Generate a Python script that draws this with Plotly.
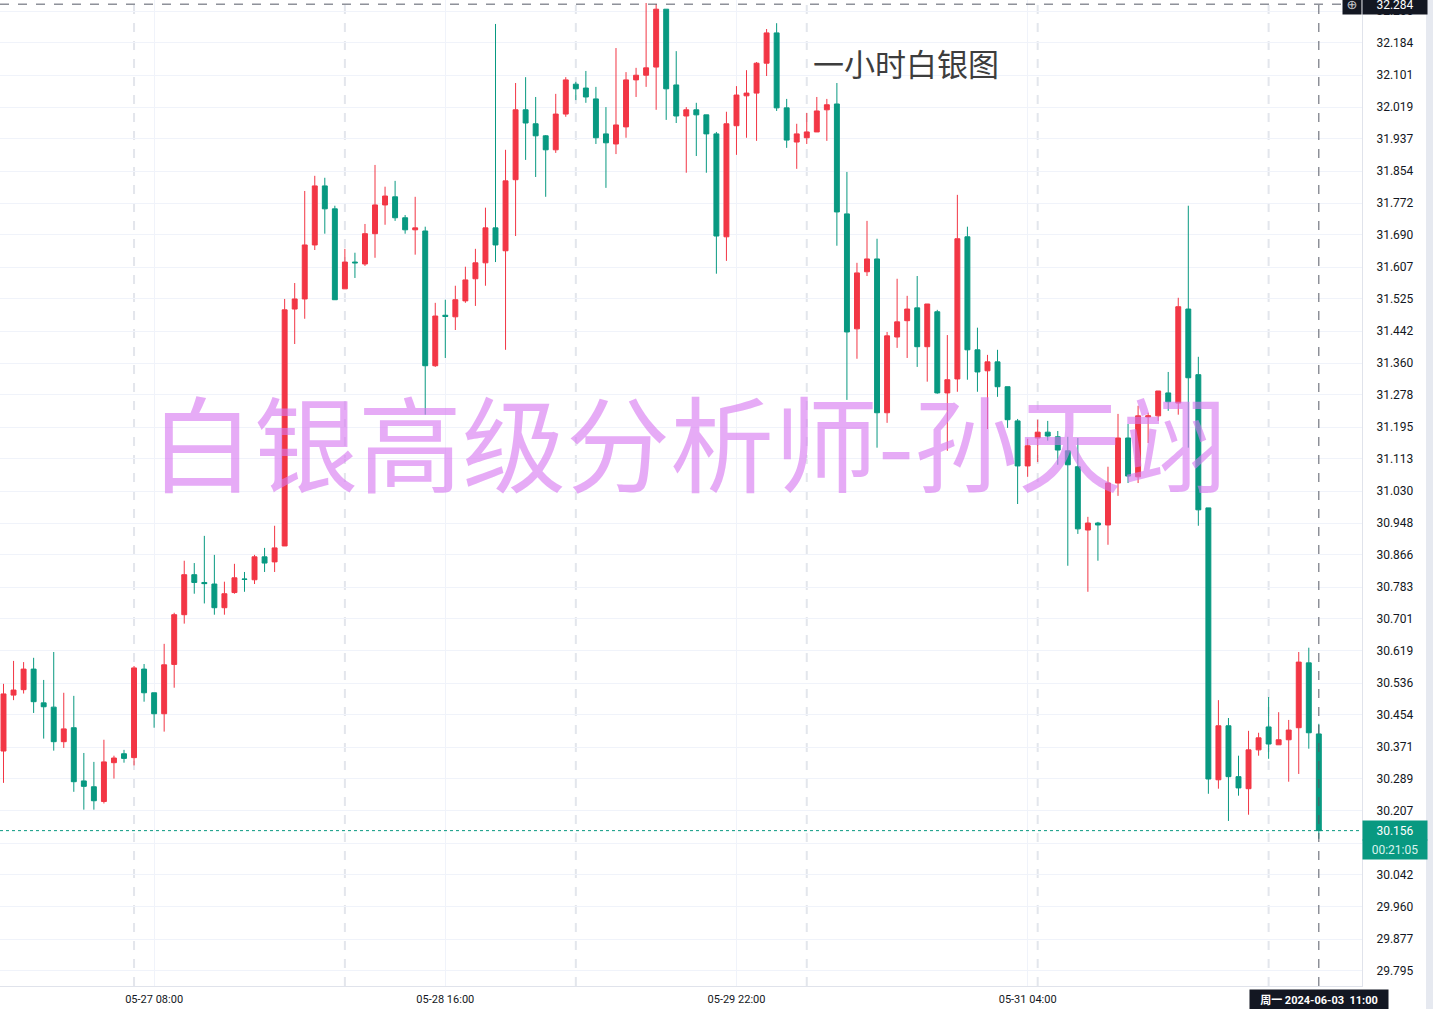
import plotly.graph_objects as go

# ---------------- data (1-hour silver candles) ----------------
opens = [30.361, 30.505, 30.519, 30.572, 30.485, 30.474, 30.385, 30.421, 30.284, 30.269,
         30.231, 30.331, 30.354, 30.344, 30.572, 30.511, 30.457, 30.584, 30.712, 30.815,
         30.795, 30.791, 30.730, 30.769, 30.804, 30.802, 30.861, 30.848, 30.889, 31.499,
         31.525, 31.664, 31.816, 31.757, 31.551, 31.620, 31.615, 31.693, 31.767, 31.788,
         31.734, 31.703, 31.700, 31.353, 31.483, 31.479, 31.520, 31.577, 31.618, 31.708,
         31.649, 31.832, 32.012, 31.976, 31.945, 31.909, 32.001, 32.078, 32.068, 32.040,
         31.950, 31.924, 31.968, 32.089, 32.101, 32.122, 32.271, 32.076, 31.996, 32.012,
         31.999, 31.950, 31.685, 31.971, 32.048, 32.055, 32.132, 32.210, 32.017, 31.929,
         31.940, 31.955, 32.012, 32.027, 31.744, 31.448, 31.595, 31.628, 31.232, 31.427,
         31.469, 31.502, 31.402, 31.492, 31.283, 31.319, 31.685, 31.394, 31.340, 31.363,
         31.299, 31.211, 31.095, 31.167, 31.182, 31.170, 31.134, 31.093, 30.930, 30.948,
         30.943, 31.051, 31.167, 31.067, 31.221, 31.224, 31.283, 31.257, 31.499, 31.330,
         30.987, 30.287, 30.426, 30.295, 30.264, 30.364, 30.423, 30.377, 30.390, 30.421,
         30.588, 30.405]
closes = [30.508, 30.518, 30.572, 30.488, 30.475, 30.385, 30.418, 30.282, 30.270, 30.233,
          30.333, 30.343, 30.342, 30.575, 30.511, 30.457, 30.583, 30.712, 30.815, 30.795,
          30.792, 30.730, 30.766, 30.807, 30.803, 30.861, 30.845, 30.884, 31.497, 31.525,
          31.664, 31.816, 31.757, 31.523, 31.620, 31.618, 31.693, 31.767, 31.790, 31.734,
          31.703, 31.708, 31.353, 31.481, 31.480, 31.523, 31.574, 31.618, 31.708, 31.664,
          31.829, 32.012, 31.978, 31.945, 31.909, 32.001, 32.089, 32.066, 32.045, 31.940,
          31.927, 31.973, 32.089, 32.101, 32.120, 32.271, 32.066, 31.996, 32.012, 31.999,
          31.950, 31.687, 31.976, 32.050, 32.055, 32.132, 32.210, 32.017, 31.934, 31.950,
          31.955, 32.009, 32.025, 31.749, 31.440, 31.592, 31.628, 31.232, 31.430, 31.466,
          31.499, 31.402, 31.512, 31.283, 31.317, 31.680, 31.394, 31.337, 31.363, 31.299,
          31.214, 31.095, 31.147, 31.182, 31.172, 31.136, 31.098, 30.933, 30.948, 30.943,
          31.051, 31.167, 31.069, 31.224, 31.224, 31.288, 31.260, 31.505, 31.322, 30.982,
          30.289, 30.426, 30.295, 30.266, 30.364, 30.395, 30.379, 30.390, 30.415, 30.590,
          30.408, 30.156]
highs = [30.534, 30.593, 30.590, 30.601, 30.544, 30.616, 30.511, 30.503, 30.356, 30.333,
         30.390, 30.349, 30.364, 30.580, 30.585, 30.511, 30.637, 30.717, 30.851, 30.845,
         30.915, 30.866, 30.797, 30.843, 30.822, 30.866, 30.884, 30.941, 31.525, 31.566,
         31.803, 31.842, 31.837, 31.765, 31.654, 31.644, 31.718, 31.870, 31.814, 31.829,
         31.741, 31.788, 31.711, 31.515, 31.523, 31.559, 31.608, 31.654, 31.760, 32.233,
         31.909, 32.081, 32.096, 32.045, 31.947, 32.053, 32.096, 32.084, 32.112, 32.071,
         32.019, 32.171, 32.109, 32.120, 32.287, 32.284, 32.271, 32.163, 32.019, 32.030,
         31.999, 31.955, 32.007, 32.073, 32.114, 32.135, 32.220, 32.235, 32.040, 31.976,
         32.004, 32.045, 32.040, 32.081, 31.852, 31.618, 31.726, 31.680, 31.440, 31.577,
         31.533, 31.584, 31.512, 31.497, 31.432, 31.793, 31.711, 31.451, 31.381, 31.394,
         31.299, 31.216, 31.165, 31.214, 31.211, 31.185, 31.170, 31.167, 30.964, 30.951,
         31.093, 31.229, 31.203, 31.250, 31.232, 31.288, 31.337, 31.528, 31.765, 31.376,
         30.987, 30.492, 30.446, 30.349, 30.413, 30.408, 30.500, 30.461, 30.441, 30.616,
         30.627, 30.431]
lows = [30.279, 30.492, 30.509, 30.459, 30.393, 30.362, 30.369, 30.256, 30.210, 30.210,
        30.226, 30.290, 30.331, 30.324, 30.488, 30.421, 30.411, 30.524, 30.689, 30.766,
        30.741, 30.712, 30.712, 30.766, 30.771, 30.791, 30.822, 30.822, 30.889, 31.409,
        31.474, 31.651, 31.693, 31.523, 31.551, 31.579, 31.610, 31.631, 31.716, 31.726,
        31.693, 31.639, 31.227, 31.350, 31.373, 31.445, 31.515, 31.507, 31.559, 31.620,
        31.394, 31.687, 31.883, 31.839, 31.788, 31.901, 31.994, 32.037, 32.030, 31.924,
        31.811, 31.898, 31.940, 32.045, 32.071, 32.012, 31.986, 31.978, 31.850, 31.893,
        31.850, 31.590, 31.623, 31.896, 31.940, 31.932, 32.099, 32.009, 31.914, 31.860,
        31.924, 31.955, 31.932, 31.662, 31.265, 31.371, 31.584, 31.142, 31.206, 31.399,
        31.373, 31.350, 31.312, 31.281, 31.134, 31.286, 31.317, 31.286, 31.190, 31.273,
        31.193, 30.997, 31.067, 31.105, 31.160, 31.098, 30.838, 30.920, 30.771, 30.851,
        30.892, 31.018, 31.051, 31.051, 31.154, 31.211, 31.237, 31.227, 31.142, 30.941,
        30.251, 30.264, 30.181, 30.246, 30.197, 30.349, 30.341, 30.377, 30.282, 30.302,
        30.367, 30.135]

x_tick_idx = [15, 44, 73, 102]
x_tick_text = ["05-27 08:00", "05-28 16:00", "05-29 22:00", "05-31 04:00"]
session_starts = [13, 34, 57, 80, 103, 126]
y_ticks = [32.266, 32.184, 32.101, 32.019, 31.937, 31.854, 31.772, 31.690, 31.607,
           31.525, 31.442, 31.360, 31.278, 31.195, 31.113, 31.030, 30.948, 30.866,
           30.783, 30.701, 30.619, 30.536, 30.454, 30.371, 30.289, 30.207, 30.124,
           30.042, 29.960, 29.877, 29.795]
last_price = 30.156
cross_price = 32.284
cross_idx = 131
cross_label = "周一 2024-06-03  11:00"
countdown = "00:21:05"
title_text = "一小时白银图"
watermark = "白银高级分析师-孙天翊"

UP = "#F23645"
DOWN = "#089981"
W, H = 1433, 1009
ML, MR, MT, MB = 0, 71, 0, 23
PW = W - ML - MR
PH = H - MT - MB

xs = list(range(len(opens)))

fig = go.Figure()
fig.add_trace(go.Candlestick(
    x=xs, open=opens, high=highs, low=lows, close=closes,
    increasing=dict(line=dict(color=UP, width=1), fillcolor=UP),
    decreasing=dict(line=dict(color=DOWN, width=1), fillcolor=DOWN),
    whiskerwidth=0, showlegend=False, hoverinfo="skip",
))

shapes = []
# session separators
for s in session_starts:
    shapes.append(dict(type="line", xref="x", yref="paper", x0=s, x1=s, y0=0, y1=1,
                       line=dict(color="#e3e6ec", width=2, dash="dash"), layer="below"))
# crosshair
shapes.append(dict(type="line", xref="paper", yref="y", x0=0, x1=1, y0=cross_price, y1=cross_price,
                   line=dict(color="#555a66", width=1, dash="dash")))
shapes.append(dict(type="line", xref="x", yref="paper", x0=cross_idx, x1=cross_idx, y0=0, y1=1,
                   line=dict(color="#555a66", width=1, dash="dash")))
# last price dotted line
shapes.append(dict(type="line", xref="paper", yref="y", x0=0, x1=1, y0=last_price, y1=last_price,
                   line=dict(color=DOWN, width=1, dash="dot")))
# right edge strip
shapes.append(dict(type="rect", xref="paper", yref="paper", x0=(1426 - ML) / PW, x1=(W - ML) / PW,
                   y0=-MB / PH, y1=1, fillcolor="#e6e9f0", line=dict(width=0), layer="above"))

annotations = [
    dict(text=title_text, xref="paper", yref="paper", x=906 / PW, y=1 - 62 / PH,
         showarrow=False, font=dict(size=31, color="#3d3d3d", family="Noto Sans CJK SC"),
         xanchor="center", yanchor="middle"),
    dict(text=watermark, xref="paper", yref="paper", x=688 / PW, y=1 - 440 / PH,
         showarrow=False, font=dict(size=104, color="rgba(215,120,240,0.62)", family="Noto Sans CJK SC"),
         xanchor="center", yanchor="middle"),
    # last price label
    dict(text=f"{last_price:.3f}", xref="paper", yref="y", x=(1362 - ML) / PW, y=last_price,
         xanchor="left", yanchor="middle", showarrow=False, bgcolor=DOWN, width=60, height=15,
         borderpad=2, font=dict(size=12, color="white", family="Roboto")),
    dict(text=countdown, xref="paper", yref="y", x=(1362 - ML) / PW, y=last_price, yshift=-19,
         xanchor="left", yanchor="middle", showarrow=False, bgcolor=DOWN, width=60, height=15,
         borderpad=2, font=dict(size=12, color="#d8f3ee", family="Roboto")),
    # crosshair price label
    dict(text=f"{cross_price:.3f}", xref="paper", yref="y", x=(1362 - ML) / PW, y=cross_price,
         xanchor="left", yanchor="middle", showarrow=False, bgcolor="#131722", width=60, height=15,
         borderpad=2, font=dict(size=12, color="white", family="Roboto")),
    dict(text="⊕", xref="paper", yref="y", x=(1352 - ML) / PW, y=cross_price,
         xanchor="center", yanchor="middle", showarrow=False, bgcolor="#131722", width=14, height=15,
         borderpad=2, font=dict(size=13, color="#c8cad0", family="DejaVu Sans")),
    # crosshair time label
    dict(text=f"<b>{cross_label}</b>", xref="x", yref="paper", x=cross_idx, y=-(1000 - PH) / PH,
         xanchor="center", yanchor="middle", showarrow=False, bgcolor="#131722", width=134, height=17,
         borderpad=2, font=dict(size=11, color="white", family="Roboto, Noto Sans CJK SC")),
]

fig.update_layout(
    width=W, height=H,
    margin=dict(l=ML, r=MR, t=MT, b=MB),
    paper_bgcolor="white", plot_bgcolor="white",
    shapes=shapes, annotations=annotations,
    font=dict(family="Roboto, Noto Sans CJK SC", color="#131722"),
    xaxis=dict(
        range=[-0.35, 135.3], rangeslider=dict(visible=False),
        tickmode="array", tickvals=x_tick_idx, ticktext=x_tick_text,
        showgrid=True, gridcolor="#f0f3fa", gridwidth=1,
        showline=True, linecolor="#e0e3eb", linewidth=1,
        ticks="", ticklabelstandoff=3, tickfont=dict(size=11, color="#131722"),
        zeroline=False, fixedrange=True,
    ),
    yaxis=dict(
        side="right", range=[29.756, 32.2947],
        tickmode="array", tickvals=y_ticks, ticktext=[f"{v:.3f}" for v in y_ticks],
        showgrid=True, gridcolor="#f0f3fa", gridwidth=1,
        showline=True, linecolor="#e0e3eb", linewidth=1,
        ticks="", ticklabelstandoff=11, tickfont=dict(size=12, color="#131722"),
        zeroline=False, fixedrange=True,
    ),
    hovermode=False,
)

fig.write_html("out.html", config={"displayModeBar": False})

# remove the browser's default page margin so the figure sits at the window's corner
with open("out.html", "r", encoding="utf-8") as fh:
    page = fh.read()
page = page.replace("<head>", "<head><style>html,body{margin:0;padding:0;overflow:hidden;}</style>", 1)
with open("out.html", "w", encoding="utf-8") as fh:
    fh.write(page)
